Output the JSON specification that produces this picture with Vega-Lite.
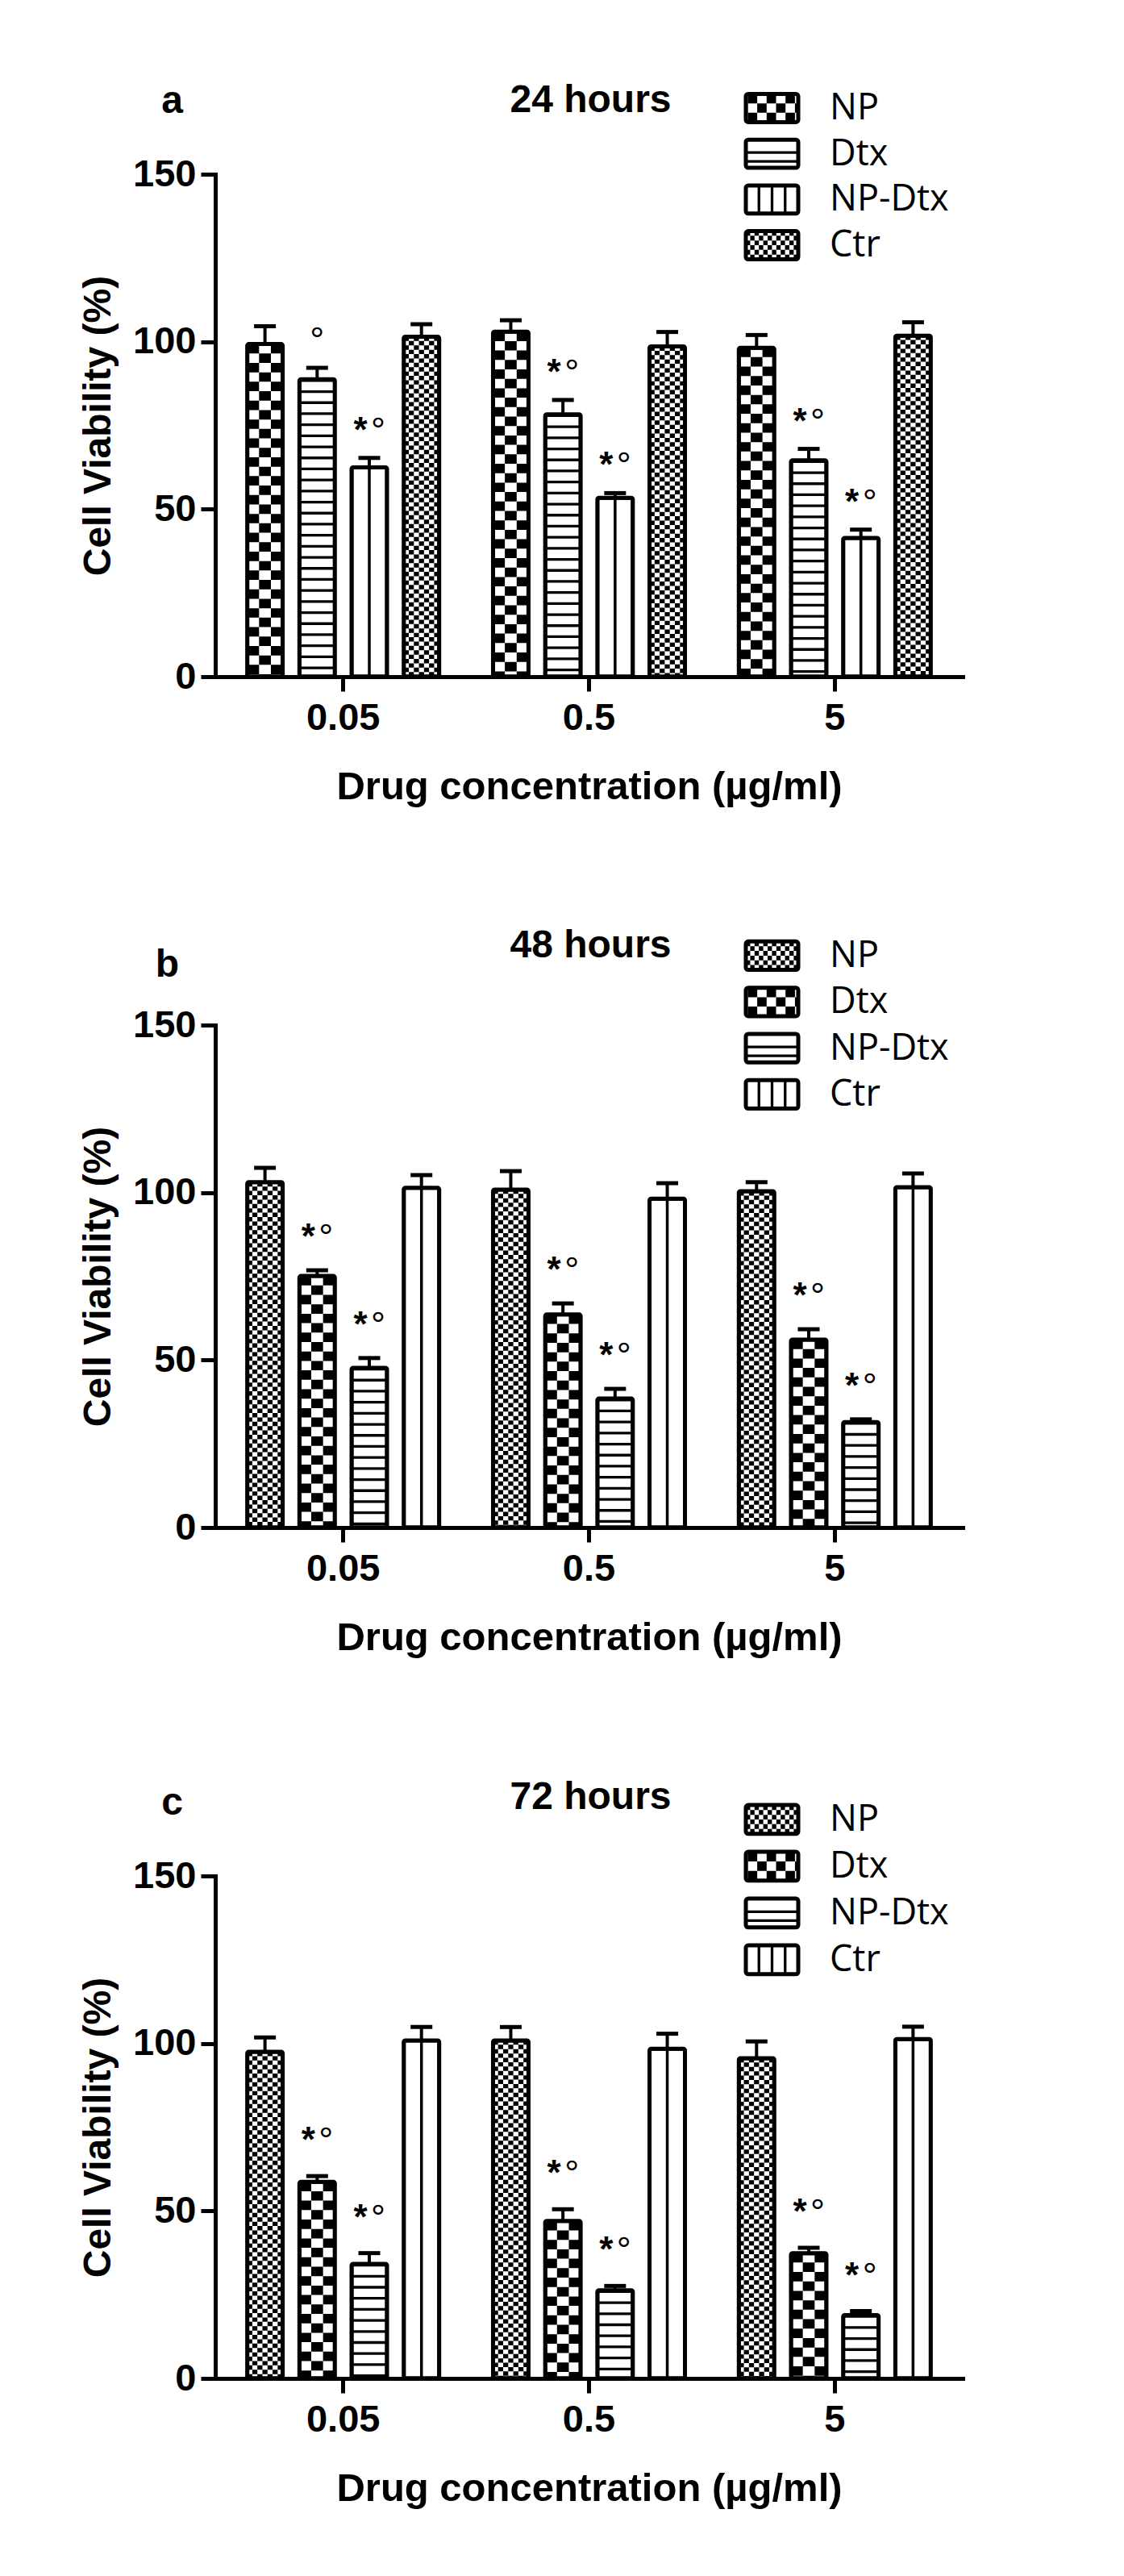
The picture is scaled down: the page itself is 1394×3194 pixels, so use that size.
{
  "$schema": "https://vega.github.io/schema/vega-lite/v6.json",
  "background": "white",
  "padding": {"left": 98, "top": 100, "right": 10, "bottom": 10},
  "bounds": "flush",
  "spacing": 432,
  "resolve": {"scale": {"xOffset": "independent"}},
  "datasets": {
    "viab": [
      {"panel": "a", "conc": "0.05", "series": "NP", "value": 99.3, "upper": 104.6, "sig": ""},
      {"panel": "a", "conc": "0.05", "series": "Dtx", "value": 88.8, "upper": 92.2, "sig": "°"},
      {"panel": "a", "conc": "0.05", "series": "NP-Dtx", "value": 62.5, "upper": 65.3, "sig": "*°"},
      {"panel": "a", "conc": "0.05", "series": "Ctr", "value": 101.5, "upper": 105.2, "sig": ""},
      {"panel": "a", "conc": "0.5", "series": "NP", "value": 103.0, "upper": 106.4, "sig": ""},
      {"panel": "a", "conc": "0.5", "series": "Dtx", "value": 78.3, "upper": 82.6, "sig": "*°"},
      {"panel": "a", "conc": "0.5", "series": "NP-Dtx", "value": 53.4, "upper": 54.8, "sig": "*°"},
      {"panel": "a", "conc": "0.5", "series": "Ctr", "value": 98.6, "upper": 102.9, "sig": ""},
      {"panel": "a", "conc": "5", "series": "NP", "value": 98.2, "upper": 102.0, "sig": ""},
      {"panel": "a", "conc": "5", "series": "Dtx", "value": 64.6, "upper": 68.0, "sig": "*°"},
      {"panel": "a", "conc": "5", "series": "NP-Dtx", "value": 41.4, "upper": 43.9, "sig": "*°"},
      {"panel": "a", "conc": "5", "series": "Ctr", "value": 101.8, "upper": 105.8, "sig": ""},
      {"panel": "b", "conc": "0.05", "series": "NP", "value": 103.1, "upper": 107.4, "sig": ""},
      {"panel": "b", "conc": "0.05", "series": "Dtx", "value": 75.1, "upper": 76.8, "sig": "*°"},
      {"panel": "b", "conc": "0.05", "series": "NP-Dtx", "value": 47.7, "upper": 50.6, "sig": "*°"},
      {"panel": "b", "conc": "0.05", "series": "Ctr", "value": 101.4, "upper": 105.2, "sig": ""},
      {"panel": "b", "conc": "0.5", "series": "NP", "value": 100.9, "upper": 106.4, "sig": ""},
      {"panel": "b", "conc": "0.5", "series": "Dtx", "value": 63.6, "upper": 66.9, "sig": "*°"},
      {"panel": "b", "conc": "0.5", "series": "NP-Dtx", "value": 38.5, "upper": 41.4, "sig": "*°"},
      {"panel": "b", "conc": "0.5", "series": "Ctr", "value": 98.2, "upper": 102.8, "sig": ""},
      {"panel": "b", "conc": "5", "series": "NP", "value": 100.4, "upper": 103.1, "sig": ""},
      {"panel": "b", "conc": "5", "series": "Dtx", "value": 56.1, "upper": 59.2, "sig": "*°"},
      {"panel": "b", "conc": "5", "series": "NP-Dtx", "value": 31.5, "upper": 32.3, "sig": "*°"},
      {"panel": "b", "conc": "5", "series": "Ctr", "value": 101.6, "upper": 105.7, "sig": ""},
      {"panel": "c", "conc": "0.05", "series": "NP", "value": 97.5, "upper": 101.8, "sig": ""},
      {"panel": "c", "conc": "0.05", "series": "Dtx", "value": 58.7, "upper": 60.4, "sig": "*°"},
      {"panel": "c", "conc": "0.05", "series": "NP-Dtx", "value": 34.2, "upper": 37.4, "sig": "*°"},
      {"panel": "c", "conc": "0.05", "series": "Ctr", "value": 100.9, "upper": 104.9, "sig": ""},
      {"panel": "c", "conc": "0.5", "series": "NP", "value": 100.9, "upper": 104.9, "sig": ""},
      {"panel": "c", "conc": "0.5", "series": "Dtx", "value": 47.0, "upper": 50.5, "sig": "*°"},
      {"panel": "c", "conc": "0.5", "series": "NP-Dtx", "value": 26.3, "upper": 27.6, "sig": "*°"},
      {"panel": "c", "conc": "0.5", "series": "Ctr", "value": 98.4, "upper": 102.9, "sig": ""},
      {"panel": "c", "conc": "5", "series": "NP", "value": 95.6, "upper": 100.6, "sig": ""},
      {"panel": "c", "conc": "5", "series": "Dtx", "value": 37.4, "upper": 39.0, "sig": "*°"},
      {"panel": "c", "conc": "5", "series": "NP-Dtx", "value": 18.9, "upper": 20.1, "sig": "*°"},
      {"panel": "c", "conc": "5", "series": "Ctr", "value": 101.3, "upper": 105.0, "sig": ""}
    ],
    "legend": [
      {"series": "NP"},
      {"series": "Dtx"},
      {"series": "NP-Dtx"},
      {"series": "Ctr"}
    ]
  },
  "vconcat": [
    {
      "width": 927,
      "height": 623,
      "resolve": {"scale": {"x": "independent", "y": "independent", "xOffset": "independent"}},
      "layer": [
        {
          "data": {"name": "viab"},
          "transform": [{"filter": "datum.panel == 'a'"}],
          "encoding": {
            "x": {"field": "conc", "type": "nominal", "sort": ["0.05", "0.5", "5"], "title": "Drug concentration (µg/ml)", "scale": {"paddingInner": 0.219, "paddingOuter": 0.13}, "axis": {"labelAngle": 0, "labelPadding": 10, "titlePadding": 38, "titleFontSize": 49}},
            "xOffset": {"field": "series", "type": "nominal", "sort": ["NP", "Dtx", "NP-Dtx", "Ctr"], "scale": {"paddingInner": 0.32, "paddingOuter": 0}},
            "y": {"field": "value", "type": "quantitative", "title": "Cell Viability (%)", "scale": {"domain": [0, 150], "nice": false}, "axis": {"values": [0, 50, 100, 150], "labelPadding": 6, "titlePadding": 18}}
          },
          "layer": [
            {"transform": [{"filter": "datum.series == 'NP'"}], "mark": {"type": "rule", "color": "black", "strokeWidth": 44, "strokeDash": [11.7, 11.7]}},
            {"transform": [{"filter": "datum.series == 'NP'"}], "mark": {"type": "rule", "color": "white", "strokeWidth": 14.67}},
            {"transform": [{"filter": "datum.series == 'NP'"}], "mark": {"type": "rule", "color": "black", "strokeWidth": 14.67, "strokeDash": [11.7, 11.7], "strokeDashOffset": 11.7}},
            {"transform": [{"filter": "datum.series == 'Dtx'"}], "mark": {"type": "rule", "color": "black", "strokeWidth": 44, "strokeDash": [3.3, 10.4]}},
            {"transform": [{"filter": "datum.series == 'NP-Dtx'"}], "mark": {"type": "rule", "color": "black", "strokeWidth": 3.5}},
            {"transform": [{"filter": "datum.series == 'Ctr'"}], "mark": {"type": "rule", "color": "black", "strokeWidth": 44, "strokeDash": [5.4, 5.4]}},
            {"transform": [{"filter": "datum.series == 'Ctr'"}], "mark": {"type": "rule", "color": "white", "strokeWidth": 31.43}},
            {"transform": [{"filter": "datum.series == 'Ctr'"}], "mark": {"type": "rule", "color": "black", "strokeWidth": 31.43, "strokeDash": [5.4, 5.4], "strokeDashOffset": 5.4}},
            {"transform": [{"filter": "datum.series == 'Ctr'"}], "mark": {"type": "rule", "color": "white", "strokeWidth": 18.86}},
            {"transform": [{"filter": "datum.series == 'Ctr'"}], "mark": {"type": "rule", "color": "black", "strokeWidth": 18.86, "strokeDash": [5.4, 5.4]}},
            {"transform": [{"filter": "datum.series == 'Ctr'"}], "mark": {"type": "rule", "color": "white", "strokeWidth": 6.29}},
            {"transform": [{"filter": "datum.series == 'Ctr'"}], "mark": {"type": "rule", "color": "black", "strokeWidth": 6.29, "strokeDash": [5.4, 5.4], "strokeDashOffset": 5.4}},
            {"mark": {"type": "bar", "fillOpacity": 0, "stroke": "black", "strokeWidth": 5, "cornerRadius": 2}},
            {"mark": {"type": "rule", "color": "black", "strokeWidth": 4}, "encoding": {"y2": {"field": "upper"}}},
            {"mark": {"type": "tick", "color": "black", "opacity": 1, "size": 27, "thickness": 5}, "encoding": {"y": {"field": "upper", "type": "quantitative", "title": "Cell Viability (%)"}}},
            {"transform": [{"filter": "datum.sig == '*°'"}], "mark": {"type": "text", "text": "*", "color": "black", "font": "Liberation Sans", "fontWeight": "bold", "fontSize": 44, "align": "center", "baseline": "alphabetic", "dx": -11, "dy": -20}, "encoding": {"y": {"field": "upper", "type": "quantitative", "title": "Cell Viability (%)"}}},
            {"transform": [{"filter": "datum.sig == '*°'"}], "mark": {"type": "text", "text": "°", "color": "black", "font": "Liberation Sans", "fontSize": 45, "align": "center", "baseline": "alphabetic", "dx": 11, "dy": -19}, "encoding": {"y": {"field": "upper", "type": "quantitative", "title": "Cell Viability (%)"}}},
            {"transform": [{"filter": "datum.sig == '°'"}], "mark": {"type": "text", "text": "°", "color": "black", "font": "Liberation Sans", "fontSize": 45, "align": "center", "baseline": "alphabetic", "dx": 0, "dy": -19}, "encoding": {"y": {"field": "upper", "type": "quantitative", "title": "Cell Viability (%)"}}}
          ]
        },
        {
          "data": {"name": "legend"},
          "encoding": {
            "x": {"datum": 0, "type": "quantitative", "scale": {"domain": [0, 1], "range": [658, 723]}, "axis": {"orient": "top", "title": "a", "domain": false, "ticks": false, "labels": false, "titleAngle": 0, "titleX": -54, "titleY": -76.5, "titleAlign": "center", "titleBaseline": "alphabetic"}},
            "y": {"field": "series", "type": "nominal", "sort": ["NP", "Dtx", "NP-Dtx", "Ctr"], "scale": {"range": [-99.5, 105.5], "paddingInner": 0.384, "paddingOuter": 0}, "axis": {"orient": "right", "title": "24 hours", "domain": false, "ticks": false, "labels": false, "titleAngle": 0, "titleX": -462, "titleY": -78, "titleAlign": "center", "titleBaseline": "alphabetic"}}
          },
          "layer": [
            {"transform": [{"filter": "datum.series == 'NP'"}], "mark": {"type": "rule", "color": "black", "strokeWidth": 11.67, "strokeDash": [11.7, 11.7], "strokeDashOffset": 21, "yOffset": -11.67}, "encoding": {"x2": {"datum": 1}}},
            {"transform": [{"filter": "datum.series == 'NP'"}], "mark": {"type": "rule", "color": "black", "strokeWidth": 11.67, "strokeDash": [11.7, 11.7], "strokeDashOffset": 9.3, "yOffset": 0}, "encoding": {"x2": {"datum": 1}}},
            {"transform": [{"filter": "datum.series == 'NP'"}], "mark": {"type": "rule", "color": "black", "strokeWidth": 11.67, "strokeDash": [11.7, 11.7], "strokeDashOffset": 21, "yOffset": 11.67}, "encoding": {"x2": {"datum": 1}}},
            {"transform": [{"filter": "datum.series == 'Dtx'"}], "mark": {"type": "rule", "color": "black", "strokeWidth": 3.3, "yOffset": -1.5}, "encoding": {"x2": {"datum": 1}}},
            {"transform": [{"filter": "datum.series == 'Dtx'"}], "mark": {"type": "rule", "color": "black", "strokeWidth": 3.3, "yOffset": 9.5}, "encoding": {"x2": {"datum": 1}}},
            {"transform": [{"filter": "datum.series == 'NP-Dtx'"}], "mark": {"type": "rule", "color": "black", "strokeWidth": 35, "strokeDash": [3.3, 12.95], "strokeDashOffset": 1.65}, "encoding": {"x2": {"datum": 1}}},
            {"transform": [{"filter": "datum.series == 'Ctr'"}], "mark": {"type": "rule", "color": "black", "strokeWidth": 5.83, "strokeDash": [5.4, 5.4], "strokeDashOffset": 0, "yOffset": -14.58}, "encoding": {"x2": {"datum": 1}}},
            {"transform": [{"filter": "datum.series == 'Ctr'"}], "mark": {"type": "rule", "color": "black", "strokeWidth": 5.83, "strokeDash": [5.4, 5.4], "strokeDashOffset": 5.4, "yOffset": -8.75}, "encoding": {"x2": {"datum": 1}}},
            {"transform": [{"filter": "datum.series == 'Ctr'"}], "mark": {"type": "rule", "color": "black", "strokeWidth": 5.83, "strokeDash": [5.4, 5.4], "strokeDashOffset": 0, "yOffset": -2.92}, "encoding": {"x2": {"datum": 1}}},
            {"transform": [{"filter": "datum.series == 'Ctr'"}], "mark": {"type": "rule", "color": "black", "strokeWidth": 5.83, "strokeDash": [5.4, 5.4], "strokeDashOffset": 5.4, "yOffset": 2.92}, "encoding": {"x2": {"datum": 1}}},
            {"transform": [{"filter": "datum.series == 'Ctr'"}], "mark": {"type": "rule", "color": "black", "strokeWidth": 5.83, "strokeDash": [5.4, 5.4], "strokeDashOffset": 0, "yOffset": 8.75}, "encoding": {"x2": {"datum": 1}}},
            {"transform": [{"filter": "datum.series == 'Ctr'"}], "mark": {"type": "rule", "color": "black", "strokeWidth": 5.83, "strokeDash": [5.4, 5.4], "strokeDashOffset": 5.4, "yOffset": 14.58}, "encoding": {"x2": {"datum": 1}}},
            {"mark": {"type": "bar", "fillOpacity": 0, "stroke": "black", "strokeWidth": 5, "cornerRadius": 3}, "encoding": {"x2": {"datum": 1}}},
            {"mark": {"type": "text", "align": "left", "baseline": "middle", "dx": 104, "font": "Open Sans", "fontSize": 45, "color": "black"}, "encoding": {"text": {"field": "series"}}}
          ]
        }
      ]
    },
    {
      "width": 927,
      "height": 623,
      "resolve": {"scale": {"x": "independent", "y": "independent", "xOffset": "independent"}},
      "layer": [
        {
          "data": {"name": "viab"},
          "transform": [{"filter": "datum.panel == 'b'"}],
          "encoding": {
            "x": {"field": "conc", "type": "nominal", "sort": ["0.05", "0.5", "5"], "title": "Drug concentration (µg/ml)", "scale": {"paddingInner": 0.219, "paddingOuter": 0.13}, "axis": {"labelAngle": 0, "labelPadding": 10, "titlePadding": 38, "titleFontSize": 49}},
            "xOffset": {"field": "series", "type": "nominal", "sort": ["NP", "Dtx", "NP-Dtx", "Ctr"], "scale": {"paddingInner": 0.32, "paddingOuter": 0}},
            "y": {"field": "value", "type": "quantitative", "title": "Cell Viability (%)", "scale": {"domain": [0, 150], "nice": false}, "axis": {"values": [0, 50, 100, 150], "labelPadding": 6, "titlePadding": 18}}
          },
          "layer": [
            {"transform": [{"filter": "datum.series == 'NP'"}], "mark": {"type": "rule", "color": "black", "strokeWidth": 44, "strokeDash": [5.4, 5.4]}},
            {"transform": [{"filter": "datum.series == 'NP'"}], "mark": {"type": "rule", "color": "white", "strokeWidth": 31.43}},
            {"transform": [{"filter": "datum.series == 'NP'"}], "mark": {"type": "rule", "color": "black", "strokeWidth": 31.43, "strokeDash": [5.4, 5.4], "strokeDashOffset": 5.4}},
            {"transform": [{"filter": "datum.series == 'NP'"}], "mark": {"type": "rule", "color": "white", "strokeWidth": 18.86}},
            {"transform": [{"filter": "datum.series == 'NP'"}], "mark": {"type": "rule", "color": "black", "strokeWidth": 18.86, "strokeDash": [5.4, 5.4]}},
            {"transform": [{"filter": "datum.series == 'NP'"}], "mark": {"type": "rule", "color": "white", "strokeWidth": 6.29}},
            {"transform": [{"filter": "datum.series == 'NP'"}], "mark": {"type": "rule", "color": "black", "strokeWidth": 6.29, "strokeDash": [5.4, 5.4], "strokeDashOffset": 5.4}},
            {"transform": [{"filter": "datum.series == 'Dtx'"}], "mark": {"type": "rule", "color": "black", "strokeWidth": 44, "strokeDash": [11.7, 11.7]}},
            {"transform": [{"filter": "datum.series == 'Dtx'"}], "mark": {"type": "rule", "color": "white", "strokeWidth": 14.67}},
            {"transform": [{"filter": "datum.series == 'Dtx'"}], "mark": {"type": "rule", "color": "black", "strokeWidth": 14.67, "strokeDash": [11.7, 11.7], "strokeDashOffset": 11.7}},
            {"transform": [{"filter": "datum.series == 'NP-Dtx'"}], "mark": {"type": "rule", "color": "black", "strokeWidth": 44, "strokeDash": [3.3, 10.4]}},
            {"transform": [{"filter": "datum.series == 'Ctr'"}], "mark": {"type": "rule", "color": "black", "strokeWidth": 3.5}},
            {"mark": {"type": "bar", "fillOpacity": 0, "stroke": "black", "strokeWidth": 5, "cornerRadius": 2}},
            {"mark": {"type": "rule", "color": "black", "strokeWidth": 4}, "encoding": {"y2": {"field": "upper"}}},
            {"mark": {"type": "tick", "color": "black", "opacity": 1, "size": 27, "thickness": 5}, "encoding": {"y": {"field": "upper", "type": "quantitative", "title": "Cell Viability (%)"}}},
            {"transform": [{"filter": "datum.sig == '*°'"}], "mark": {"type": "text", "text": "*", "color": "black", "font": "Liberation Sans", "fontWeight": "bold", "fontSize": 44, "align": "center", "baseline": "alphabetic", "dx": -11, "dy": -27}, "encoding": {"y": {"field": "upper", "type": "quantitative", "title": "Cell Viability (%)"}}},
            {"transform": [{"filter": "datum.sig == '*°'"}], "mark": {"type": "text", "text": "°", "color": "black", "font": "Liberation Sans", "fontSize": 45, "align": "center", "baseline": "alphabetic", "dx": 11, "dy": -26}, "encoding": {"y": {"field": "upper", "type": "quantitative", "title": "Cell Viability (%)"}}}
          ]
        },
        {
          "data": {"name": "legend"},
          "encoding": {
            "x": {"datum": 0, "type": "quantitative", "scale": {"domain": [0, 1], "range": [658, 723]}, "axis": {"orient": "top", "title": "b", "domain": false, "ticks": false, "labels": false, "titleAngle": 0, "titleX": -60, "titleY": -61, "titleAlign": "center", "titleBaseline": "alphabetic"}},
            "y": {"field": "series", "type": "nominal", "sort": ["NP", "Dtx", "NP-Dtx", "Ctr"], "scale": {"range": [-103.7, 103.6], "paddingInner": 0.384, "paddingOuter": 0}, "axis": {"orient": "right", "title": "48 hours", "domain": false, "ticks": false, "labels": false, "titleAngle": 0, "titleX": -462, "titleY": -85, "titleAlign": "center", "titleBaseline": "alphabetic"}}
          },
          "layer": [
            {"transform": [{"filter": "datum.series == 'NP'"}], "mark": {"type": "rule", "color": "black", "strokeWidth": 5.83, "strokeDash": [5.4, 5.4], "strokeDashOffset": 0, "yOffset": -14.58}, "encoding": {"x2": {"datum": 1}}},
            {"transform": [{"filter": "datum.series == 'NP'"}], "mark": {"type": "rule", "color": "black", "strokeWidth": 5.83, "strokeDash": [5.4, 5.4], "strokeDashOffset": 5.4, "yOffset": -8.75}, "encoding": {"x2": {"datum": 1}}},
            {"transform": [{"filter": "datum.series == 'NP'"}], "mark": {"type": "rule", "color": "black", "strokeWidth": 5.83, "strokeDash": [5.4, 5.4], "strokeDashOffset": 0, "yOffset": -2.92}, "encoding": {"x2": {"datum": 1}}},
            {"transform": [{"filter": "datum.series == 'NP'"}], "mark": {"type": "rule", "color": "black", "strokeWidth": 5.83, "strokeDash": [5.4, 5.4], "strokeDashOffset": 5.4, "yOffset": 2.92}, "encoding": {"x2": {"datum": 1}}},
            {"transform": [{"filter": "datum.series == 'NP'"}], "mark": {"type": "rule", "color": "black", "strokeWidth": 5.83, "strokeDash": [5.4, 5.4], "strokeDashOffset": 0, "yOffset": 8.75}, "encoding": {"x2": {"datum": 1}}},
            {"transform": [{"filter": "datum.series == 'NP'"}], "mark": {"type": "rule", "color": "black", "strokeWidth": 5.83, "strokeDash": [5.4, 5.4], "strokeDashOffset": 5.4, "yOffset": 14.58}, "encoding": {"x2": {"datum": 1}}},
            {"transform": [{"filter": "datum.series == 'Dtx'"}], "mark": {"type": "rule", "color": "black", "strokeWidth": 11.67, "strokeDash": [11.7, 11.7], "strokeDashOffset": 21, "yOffset": -11.67}, "encoding": {"x2": {"datum": 1}}},
            {"transform": [{"filter": "datum.series == 'Dtx'"}], "mark": {"type": "rule", "color": "black", "strokeWidth": 11.67, "strokeDash": [11.7, 11.7], "strokeDashOffset": 9.3, "yOffset": 0}, "encoding": {"x2": {"datum": 1}}},
            {"transform": [{"filter": "datum.series == 'Dtx'"}], "mark": {"type": "rule", "color": "black", "strokeWidth": 11.67, "strokeDash": [11.7, 11.7], "strokeDashOffset": 21, "yOffset": 11.67}, "encoding": {"x2": {"datum": 1}}},
            {"transform": [{"filter": "datum.series == 'NP-Dtx'"}], "mark": {"type": "rule", "color": "black", "strokeWidth": 3.3, "yOffset": -1.5}, "encoding": {"x2": {"datum": 1}}},
            {"transform": [{"filter": "datum.series == 'NP-Dtx'"}], "mark": {"type": "rule", "color": "black", "strokeWidth": 3.3, "yOffset": 9.5}, "encoding": {"x2": {"datum": 1}}},
            {"transform": [{"filter": "datum.series == 'Ctr'"}], "mark": {"type": "rule", "color": "black", "strokeWidth": 35, "strokeDash": [3.3, 12.95], "strokeDashOffset": 1.65}, "encoding": {"x2": {"datum": 1}}},
            {"mark": {"type": "bar", "fillOpacity": 0, "stroke": "black", "strokeWidth": 5, "cornerRadius": 3}, "encoding": {"x2": {"datum": 1}}},
            {"mark": {"type": "text", "align": "left", "baseline": "middle", "dx": 104, "font": "Open Sans", "fontSize": 45, "color": "black"}, "encoding": {"text": {"field": "series"}}}
          ]
        }
      ]
    },
    {
      "width": 927,
      "height": 623,
      "resolve": {"scale": {"x": "independent", "y": "independent", "xOffset": "independent"}},
      "layer": [
        {
          "data": {"name": "viab"},
          "transform": [{"filter": "datum.panel == 'c'"}],
          "encoding": {
            "x": {"field": "conc", "type": "nominal", "sort": ["0.05", "0.5", "5"], "title": "Drug concentration (µg/ml)", "scale": {"paddingInner": 0.219, "paddingOuter": 0.13}, "axis": {"labelAngle": 0, "labelPadding": 10, "titlePadding": 38, "titleFontSize": 49}},
            "xOffset": {"field": "series", "type": "nominal", "sort": ["NP", "Dtx", "NP-Dtx", "Ctr"], "scale": {"paddingInner": 0.32, "paddingOuter": 0}},
            "y": {"field": "value", "type": "quantitative", "title": "Cell Viability (%)", "scale": {"domain": [0, 150], "nice": false}, "axis": {"values": [0, 50, 100, 150], "labelPadding": 6, "titlePadding": 18}}
          },
          "layer": [
            {"transform": [{"filter": "datum.series == 'NP'"}], "mark": {"type": "rule", "color": "black", "strokeWidth": 44, "strokeDash": [5.4, 5.4]}},
            {"transform": [{"filter": "datum.series == 'NP'"}], "mark": {"type": "rule", "color": "white", "strokeWidth": 31.43}},
            {"transform": [{"filter": "datum.series == 'NP'"}], "mark": {"type": "rule", "color": "black", "strokeWidth": 31.43, "strokeDash": [5.4, 5.4], "strokeDashOffset": 5.4}},
            {"transform": [{"filter": "datum.series == 'NP'"}], "mark": {"type": "rule", "color": "white", "strokeWidth": 18.86}},
            {"transform": [{"filter": "datum.series == 'NP'"}], "mark": {"type": "rule", "color": "black", "strokeWidth": 18.86, "strokeDash": [5.4, 5.4]}},
            {"transform": [{"filter": "datum.series == 'NP'"}], "mark": {"type": "rule", "color": "white", "strokeWidth": 6.29}},
            {"transform": [{"filter": "datum.series == 'NP'"}], "mark": {"type": "rule", "color": "black", "strokeWidth": 6.29, "strokeDash": [5.4, 5.4], "strokeDashOffset": 5.4}},
            {"transform": [{"filter": "datum.series == 'Dtx'"}], "mark": {"type": "rule", "color": "black", "strokeWidth": 44, "strokeDash": [11.7, 11.7]}},
            {"transform": [{"filter": "datum.series == 'Dtx'"}], "mark": {"type": "rule", "color": "white", "strokeWidth": 14.67}},
            {"transform": [{"filter": "datum.series == 'Dtx'"}], "mark": {"type": "rule", "color": "black", "strokeWidth": 14.67, "strokeDash": [11.7, 11.7], "strokeDashOffset": 11.7}},
            {"transform": [{"filter": "datum.series == 'NP-Dtx'"}], "mark": {"type": "rule", "color": "black", "strokeWidth": 44, "strokeDash": [3.3, 10.4]}},
            {"transform": [{"filter": "datum.series == 'Ctr'"}], "mark": {"type": "rule", "color": "black", "strokeWidth": 3.5}},
            {"mark": {"type": "bar", "fillOpacity": 0, "stroke": "black", "strokeWidth": 5, "cornerRadius": 2}},
            {"mark": {"type": "rule", "color": "black", "strokeWidth": 4}, "encoding": {"y2": {"field": "upper"}}},
            {"mark": {"type": "tick", "color": "black", "opacity": 1, "size": 27, "thickness": 5}, "encoding": {"y": {"field": "upper", "type": "quantitative", "title": "Cell Viability (%)"}}},
            {"transform": [{"filter": "datum.sig == '*°'"}], "mark": {"type": "text", "text": "*", "color": "black", "font": "Liberation Sans", "fontWeight": "bold", "fontSize": 44, "align": "center", "baseline": "alphabetic", "dx": -11, "dy": -30}, "encoding": {"y": {"field": "upper", "type": "quantitative", "title": "Cell Viability (%)"}}},
            {"transform": [{"filter": "datum.sig == '*°'"}], "mark": {"type": "text", "text": "°", "color": "black", "font": "Liberation Sans", "fontSize": 45, "align": "center", "baseline": "alphabetic", "dx": 11, "dy": -29}, "encoding": {"y": {"field": "upper", "type": "quantitative", "title": "Cell Viability (%)"}}}
          ]
        },
        {
          "data": {"name": "legend"},
          "encoding": {
            "x": {"datum": 0, "type": "quantitative", "scale": {"domain": [0, 1], "range": [658, 723]}, "axis": {"orient": "top", "title": "c", "domain": false, "ticks": false, "labels": false, "titleAngle": 0, "titleX": -54, "titleY": -77, "titleAlign": "center", "titleBaseline": "alphabetic"}},
            "y": {"field": "series", "type": "nominal", "sort": ["NP", "Dtx", "NP-Dtx", "Ctr"], "scale": {"range": [-87.9, 121.8], "paddingInner": 0.384, "paddingOuter": 0}, "axis": {"orient": "right", "title": "72 hours", "domain": false, "ticks": false, "labels": false, "titleAngle": 0, "titleX": -462, "titleY": -84, "titleAlign": "center", "titleBaseline": "alphabetic"}}
          },
          "layer": [
            {"transform": [{"filter": "datum.series == 'NP'"}], "mark": {"type": "rule", "color": "black", "strokeWidth": 5.83, "strokeDash": [5.4, 5.4], "strokeDashOffset": 0, "yOffset": -14.58}, "encoding": {"x2": {"datum": 1}}},
            {"transform": [{"filter": "datum.series == 'NP'"}], "mark": {"type": "rule", "color": "black", "strokeWidth": 5.83, "strokeDash": [5.4, 5.4], "strokeDashOffset": 5.4, "yOffset": -8.75}, "encoding": {"x2": {"datum": 1}}},
            {"transform": [{"filter": "datum.series == 'NP'"}], "mark": {"type": "rule", "color": "black", "strokeWidth": 5.83, "strokeDash": [5.4, 5.4], "strokeDashOffset": 0, "yOffset": -2.92}, "encoding": {"x2": {"datum": 1}}},
            {"transform": [{"filter": "datum.series == 'NP'"}], "mark": {"type": "rule", "color": "black", "strokeWidth": 5.83, "strokeDash": [5.4, 5.4], "strokeDashOffset": 5.4, "yOffset": 2.92}, "encoding": {"x2": {"datum": 1}}},
            {"transform": [{"filter": "datum.series == 'NP'"}], "mark": {"type": "rule", "color": "black", "strokeWidth": 5.83, "strokeDash": [5.4, 5.4], "strokeDashOffset": 0, "yOffset": 8.75}, "encoding": {"x2": {"datum": 1}}},
            {"transform": [{"filter": "datum.series == 'NP'"}], "mark": {"type": "rule", "color": "black", "strokeWidth": 5.83, "strokeDash": [5.4, 5.4], "strokeDashOffset": 5.4, "yOffset": 14.58}, "encoding": {"x2": {"datum": 1}}},
            {"transform": [{"filter": "datum.series == 'Dtx'"}], "mark": {"type": "rule", "color": "black", "strokeWidth": 11.67, "strokeDash": [11.7, 11.7], "strokeDashOffset": 21, "yOffset": -11.67}, "encoding": {"x2": {"datum": 1}}},
            {"transform": [{"filter": "datum.series == 'Dtx'"}], "mark": {"type": "rule", "color": "black", "strokeWidth": 11.67, "strokeDash": [11.7, 11.7], "strokeDashOffset": 9.3, "yOffset": 0}, "encoding": {"x2": {"datum": 1}}},
            {"transform": [{"filter": "datum.series == 'Dtx'"}], "mark": {"type": "rule", "color": "black", "strokeWidth": 11.67, "strokeDash": [11.7, 11.7], "strokeDashOffset": 21, "yOffset": 11.67}, "encoding": {"x2": {"datum": 1}}},
            {"transform": [{"filter": "datum.series == 'NP-Dtx'"}], "mark": {"type": "rule", "color": "black", "strokeWidth": 3.3, "yOffset": -1.5}, "encoding": {"x2": {"datum": 1}}},
            {"transform": [{"filter": "datum.series == 'NP-Dtx'"}], "mark": {"type": "rule", "color": "black", "strokeWidth": 3.3, "yOffset": 9.5}, "encoding": {"x2": {"datum": 1}}},
            {"transform": [{"filter": "datum.series == 'Ctr'"}], "mark": {"type": "rule", "color": "black", "strokeWidth": 35, "strokeDash": [3.3, 12.95], "strokeDashOffset": 1.65}, "encoding": {"x2": {"datum": 1}}},
            {"mark": {"type": "bar", "fillOpacity": 0, "stroke": "black", "strokeWidth": 5, "cornerRadius": 3}, "encoding": {"x2": {"datum": 1}}},
            {"mark": {"type": "text", "align": "left", "baseline": "middle", "dx": 104, "font": "Open Sans", "fontSize": 45, "color": "black"}, "encoding": {"text": {"field": "series"}}}
          ]
        }
      ]
    }
  ],
  "config": {
    "view": {"stroke": null},
    "axis": {
      "grid": false,
      "domainColor": "black",
      "domainWidth": 5,
      "domainCap": "square",
      "tickColor": "black",
      "tickWidth": 5,
      "tickSize": 18,
      "labelColor": "black",
      "labelFont": "Liberation Sans",
      "labelFontSize": 47,
      "labelFontWeight": "bold",
      "titleColor": "black",
      "titleFont": "Liberation Sans",
      "titleFontSize": 48,
      "titleFontWeight": "bold"
    }
  }
}
